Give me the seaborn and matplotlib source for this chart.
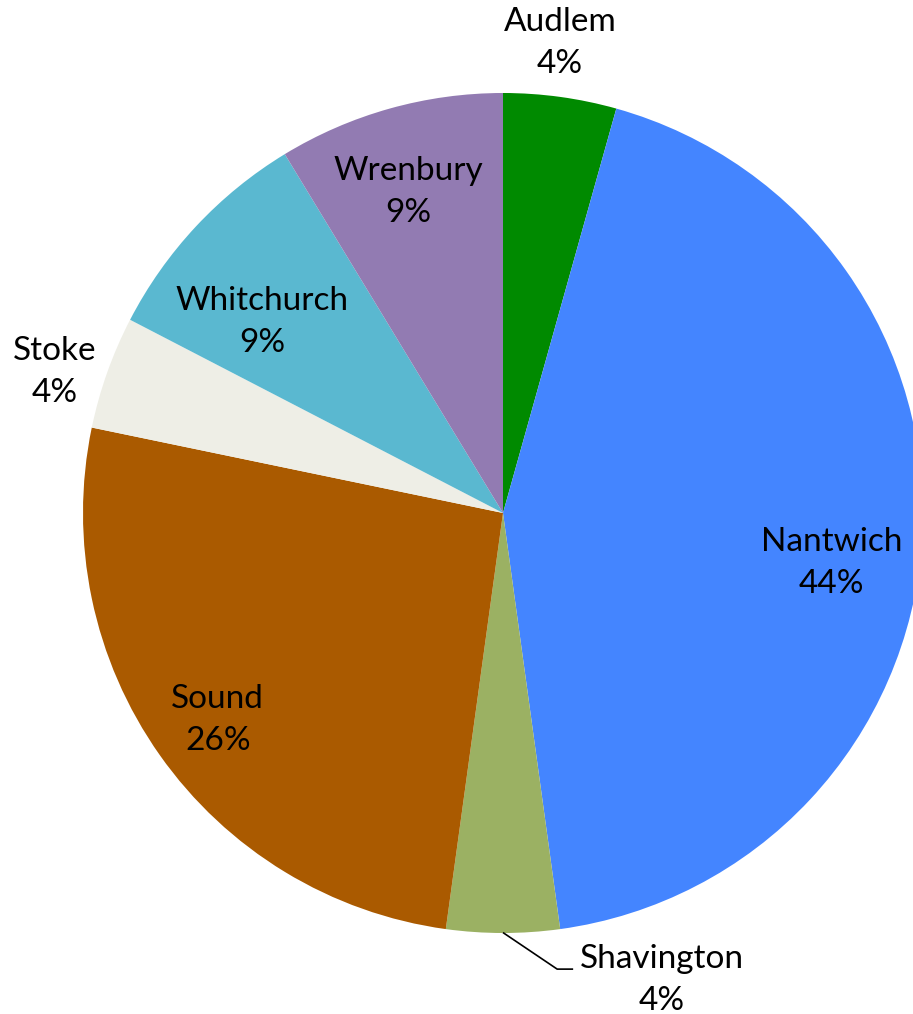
import pandas as pd
import seaborn as sns
import matplotlib.pyplot as plt

towns = ["Audlem", "Nantwich", "Shavington", "Sound", "Stoke", "Whitchurch", "Wrenbury"]
counts = [1, 10, 1, 6, 1, 2, 2]
pct_labels = [4, 44, 4, 26, 4, 9, 9]
colors = ["#008A00", "#4485FF", "#9BB163", "#AA5A00", "#EEEEE6", "#5AB8D0", "#927BB2"]

# label block centres (data units, pie radius = 1)
label_pos = {
    "Audlem": (0.136, 1.119),
    "Nantwich": (0.783, -0.119),
    "Shavington": (0.379, -1.112),
    "Sound": (-0.679, -0.493),
    "Stoke": (-1.067, 0.336),
    "Whitchurch": (-0.574, 0.455),
    "Wrenbury": (-0.226, 0.764),
}

df = pd.DataFrame({"town": towns, "count": counts, "pct": pct_labels})

sns.set_style("white")
plt.rcParams["font.family"] = ["Lato", "DejaVu Sans"]

fig = plt.figure(figsize=(9.13, 10.14), dpi=100)
ax = fig.add_axes([0, 0, 1, 1])
ax.pie(df["count"], colors=colors, startangle=90, counterclock=False,
       radius=1.0, center=(0, 0), wedgeprops=dict(linewidth=0))

for town, pct in zip(df["town"], df["pct"]):
    x, y = label_pos[town]
    ax.text(x, y, f"{town}\n{pct}%", ha="center", va="center",
            fontsize=24, linespacing=1.5, color="black")

# leader line for Shavington
ax.plot([0.0, 0.129, 0.167], [-0.999, -1.086, -1.086], color="black", lw=1.2,
        solid_capstyle="butt")

ax.set_xlim(-503 / 420, 410 / 420)
ax.set_ylim(-501 / 420, 513 / 420)
ax.set_aspect("equal", adjustable="datalim")
ax.axis("off")

fig.savefig("out.png", dpi=100)
